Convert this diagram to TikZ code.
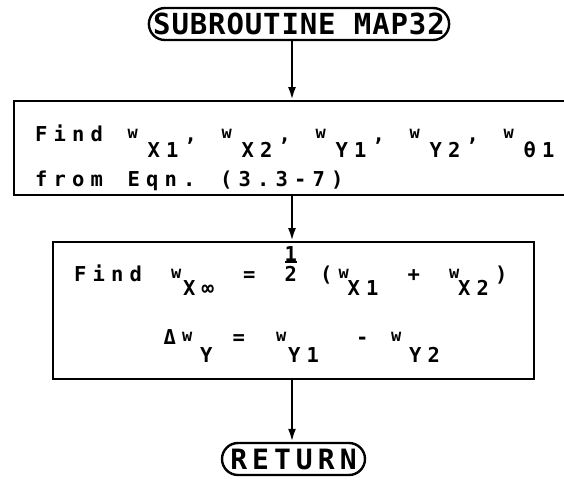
\documentclass[tikz,border=0pt]{standalone}
\usepackage{fontspec}
\usepackage{tikz}
\usetikzlibrary{positioning,arrows.meta,shapes.misc}
\newfontfamily\plotfont{DejaVu Sans Mono Bold}
\newfontfamily\plothead[LetterSpace=3]{DejaVu Sans Mono Bold}
\newfontfamily\plotret[LetterSpace=18]{DejaVu Sans Mono Bold}
% plotter lettering: one fixed cell per character
\newlength\cellw \setlength\cellw{18.5pt}
\makeatletter
\newcommand\spaced[1]{\spaced@#1\@nil}
\def\spaced@#1{\ifx\@nil#1\else\makebox[\cellw][l]{#1}\expandafter\spaced@\fi}
\makeatother
% w with its subscript: [w cell]{subscript}{drop}
\newcommand\wsub[3][20pt]{\raisebox{3pt}{\makebox[#1][l]{\fontsize{17}{17}\selectfont w}}%
  \raisebox{-#3}[0pt][0pt]{\spaced{#2}}}
\newcommand\half{\shortstack{1\\[-3pt]\rule{12pt}{1.8pt}\\2}}
\newcommand\gap{\hspace{23pt}}
\tikzset{
  term/.style={rounded rectangle, draw, line width=2.4pt, inner sep=0pt,
               minimum height=32pt, font=\plothead\fontsize{29}{30}\selectfont},
  stbox/.style={rectangle, draw, line width=2.4pt, inner xsep=21pt, inner ysep=0pt,
                align=left, font=\plotfont\fontsize{20.5}{45}\selectfont},
  flow/.style={-{Latex[length=13pt,width=8pt]}, line width=2.4pt},
}
\begin{document}
\begin{tikzpicture}[x=1pt,y=-1pt]
  \clip (0,0) rectangle (564,480);
  \coordinate (spine) at (292,0);
  \node[term, minimum width=298pt] (sub) at (299,24) {SUBROUTINE MAP32};
  \node[stbox, anchor=north west, minimum width=580pt, minimum height=94pt,
        text width=538pt] (wts) at (13,100)
    {\mbox{\rule{0pt}{36pt}\spaced{Find~}\wsub{X1}{16pt}\spaced{,~}\wsub{X2}{16pt}\spaced{,~}%
     \wsub{Y1}{16pt}\spaced{,~}\wsub{Y2}{16pt}\spaced{,~}\wsub{θ1}{16pt}}\\
     \mbox{\spaced{from~Eqn.~(3.3-7)}}};
  \node[stbox, anchor=north west, minimum width=481pt, minimum height=137pt,
        text width=439pt, font=\plotfont\fontsize{20.5}{63}\selectfont] (dw) at (52,241)
    {\mbox{\spaced{Find}\gap\wsub[12pt]{X∞}{14pt}\gap\spaced{=}\gap\half\gap
     \spaced{(}\wsub[9pt]{X1}{14pt}\gap\spaced{+}\gap\wsub[9pt]{X2}{14pt}\spaced{)}}\\
     \mbox{\hspace*{89.5pt}\spaced{Δ}\wsub[18pt]{Y}{18pt}\hspace{14pt}\spaced{=}\hspace{25pt}%
     \wsub[12pt]{Y1}{18pt}\hspace{31pt}\spaced{-}\hspace{16.5pt}\wsub[18pt]{Y2}{18pt}%
     \rule[-31pt]{0pt}{0pt}}};
  \node[term, minimum width=143pt, font=\plotret\fontsize{28}{30}\selectfont] (ret) at (293.5,459) {RETURN};
  \draw[flow] (sub.south -| spine) -- (wts.north -| spine);
  \draw[flow] (wts.south -| spine) -- (dw.north -| spine);
  \draw[flow] (dw.south -| spine) -- (ret.north -| spine);
\end{tikzpicture}
\end{document}
